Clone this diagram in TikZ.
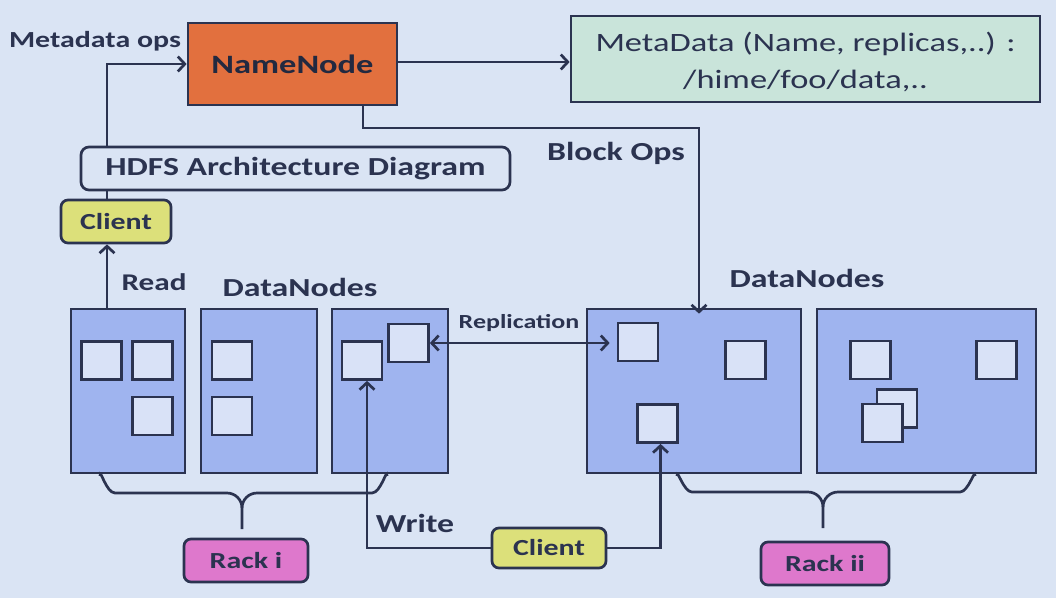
\documentclass[tikz,border=0pt]{standalone}
\usepackage{fontspec}
\setmainfont{Carlito}[FakeStretch=1.3]
\usetikzlibrary{positioning,arrows.meta}

\definecolor{bgblue}{HTML}{DAE4F4}
\definecolor{ink}{HTML}{2B3350}
\definecolor{nameorange}{HTML}{E2703E}
\definecolor{metagreen}{HTML}{C9E4DA}
\definecolor{nodeblue}{HTML}{9FB4EF}
\definecolor{blockfill}{HTML}{D9E2F7}
\definecolor{clientyellow}{HTML}{DCE07A}
\definecolor{rackpink}{HTML}{DE78CC}

\tikzset{
  box/.style={draw=ink,line width=2.7pt,inner sep=0pt,text=ink},
  word/.style={font=\bfseries\fontsize{26}{30}\selectfont,text=ink,inner sep=0pt},
  datanode/.style={box,fill=nodeblue,minimum height=164pt},
  block/.style={box,fill=blockfill,minimum width=40pt,minimum height=38pt},
  tag/.style={box,rounded corners=7pt,font=\bfseries\fontsize{23}{26}\selectfont,minimum height=43pt},
  link/.style={draw=ink,line width=2.7pt,-{Straight Barb[length=7pt,width=15pt]}},
  brace/.style={draw=ink,line width=2.7pt},
}

\begin{document}
\begin{tikzpicture}[x=1pt,y=-1pt]
  \useasboundingbox (0,0) rectangle (1056,598);
  \fill[bgblue] (0,0) rectangle (1056,598);

  % top row
  \node at (292.5,64) [box,fill=nameorange,minimum width=209pt,minimum height=82pt,
    font=\bfseries\fontsize{26.5}{30}\selectfont,text=ink!80!black] (namenode) {NameNode};
  \node at (805.5,59) [box,fill=metagreen,minimum width=469pt,minimum height=86pt,align=center,
    font=\fontsize{26.5}{37}\selectfont,text depth=0pt] (metadata)
    {\raisebox{-3pt}{MetaData (Name, replicas,..) :}\\\raisebox{-3pt}{/hime/foo/data,..}};
  \node at (95,41) [word,font=\bfseries\fontsize{23}{26}\selectfont] (metaops) {Metadata ops};

  % client on the left
  \node at (116,221.5) [tag,fill=clientyellow,minimum width=110pt] (client) {Client};
  \draw[link] ([xshift=-9pt]client.north) |- (namenode.west);
  \node at (295.5,168.5) [box,fill=bgblue,rounded corners=8pt,minimum width=429pt,minimum height=43pt,
    font=\bfseries\fontsize{26}{30}\selectfont] (title) {HDFS Architecture Diagram};

  % datanodes, rack i
  \node at (128,391) [datanode,minimum width=114pt] (dn1) {};
  \node at (259,391) [datanode,minimum width=116pt] (dn2) {};
  \node at (390,391) [datanode,minimum width=116pt] (dn3) {};
  \node at (101.5,360.5) [block] (b11) {};
  \node at (152.5,360.5) [block] (b12) {};
  \node at (152.5,416) [block] (b13) {};
  \node at (232,360.5) [block] (b21) {};
  \node at (232,416) [block] (b22) {};
  \node at (362,360.5) [block] (b31) {};
  \node at (408.5,343) [block] (b32) {};

  % datanodes, rack ii
  \node at (694,391) [datanode,minimum width=214pt] (dn4) {};
  \node at (926.5,391) [datanode,minimum width=219pt] (dn5) {};
  \node at (638,342) [block] (b41) {};
  \node at (745.5,360) [block] (b42) {};
  \node at (657.5,423.5) [block] (b43) {};
  \node at (870.5,360) [block] (b51) {};
  \node at (996.5,360) [block] (b52) {};
  \node at (897,408.5) [block] (b53) {};
  \node at (882.5,423) [block] (b54) {};

  \node at (154,282) [word,font=\bfseries\fontsize{24}{28}\selectfont] (read) {Read};
  \node at (300,287) [word] (dnleft) {DataNodes};
  \node at (807,278) [word] (dnright) {DataNodes};
  \node at (616,153) [word] (blockops) {Block Ops};
  \node at (519,323) [word,font=\bfseries\fontsize{20}{24}\selectfont] (repl) {Replication};
  \node at (415,523) [word] (write) {Write};

  \draw[link] ([xshift=-9pt]client.south |- dn1.north) -- ([xshift=-9pt]client.south);
  \draw[link] (namenode.east |- 0,62) -- (metadata.west |- 0,62);
  \coordinate (blockturn) at (699,128);
  \draw[link] ([xshift=70.5pt]namenode.south) |- (blockturn) -- ([xshift=5pt,yshift=-6pt]dn4.north);
  \draw[link,{Straight Barb[length=7pt,width=15pt]}-{Straight Barb[length=7pt,width=15pt]}]
    (b32.east) -- ([xshift=-7pt]b41.west |- b32.east);

  % racks and the bottom client
  \node at (246,560.5) [tag,fill=rackpink,minimum width=124pt] (racki) {Rack i};
  \node at (825,563.5) [tag,fill=rackpink,minimum width=128pt] (rackii) {Rack ii};
  \node at (549,548) [tag,fill=clientyellow,minimum width=114pt,minimum height=40pt] (client2) {Client};
  \draw[link] (client2.west) -| ([xshift=5pt]b31.south);
  \draw[link] (client2.east) -| ([xshift=3pt]b43.south);

  % braces
  \draw[brace] (100,476) to[out=90,in=180] (115,493) -- (227,493)
    to[out=0,in=90] (242,508) -- (242,529);
  \draw[brace] (242,508) to[out=90,in=180] (257,493) -- (372,493)
    to[out=0,in=90] (387,476);
  \draw[brace] (677,476) to[out=90,in=180] (692,492) -- (808,492)
    to[out=0,in=90] (823,507) -- (823,528);
  \draw[brace] (823,507) to[out=90,in=180] (838,492) -- (960,492)
    to[out=0,in=90] (975,476);
\end{tikzpicture}
\end{document}
